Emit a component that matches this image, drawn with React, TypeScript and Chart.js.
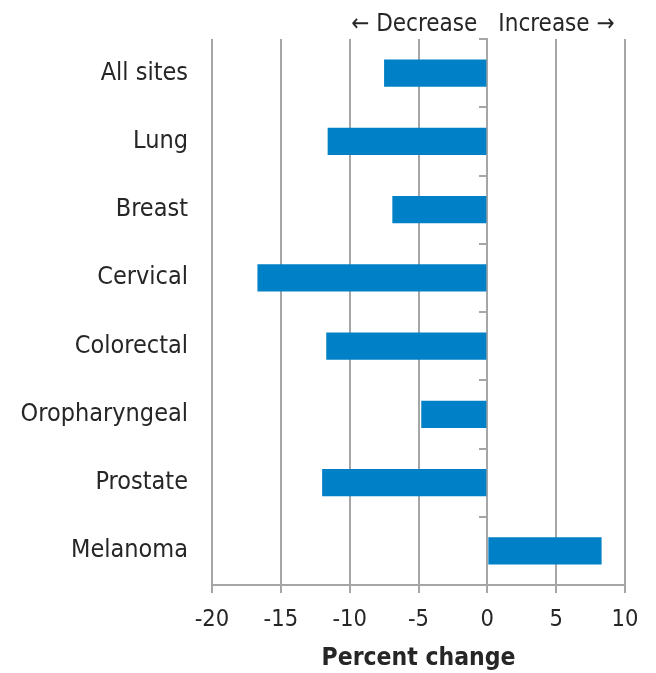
import React, { useEffect, useRef } from "react";
import { Chart, registerables } from "chart.js";

Chart.register(...registerables);

const categories = [
  "All sites",
  "Lung",
  "Breast",
  "Cervical",
  "Colorectal",
  "Oropharyngeal",
  "Prostate",
  "Melanoma",
];
const percentChange = [-7.5, -11.6, -6.9, -16.7, -11.7, -4.8, -12.0, 8.3];
const xMin = -20;
const xMax = 10;
const xStep = 5;
const xTitle = "Percent change";
const leftNote = "\u2190 Decrease";
const rightNote = "Increase \u2192";

const FONT = "'DejaVu Sans Condensed', 'DejaVu Sans', sans-serif";
const TEXT = "#262626";
const GRID = "#a6a6a6";
const BAR = "#0080c6";

const notesPlugin = {
  id: "notes",
  afterDraw(chart: any) {
    const ctx = chart.ctx;
    const x0 = chart.scales.x.getPixelForValue(0);
    ctx.save();
    ctx.font = `24px ${FONT}`;
    ctx.fillStyle = TEXT;
    ctx.textBaseline = "middle";
    ctx.textAlign = "right";
    ctx.fillText(leftNote, x0 - 10, 25);
    ctx.textAlign = "left";
    ctx.fillText(rightNote, x0 + 11, 25);
    ctx.restore();
  },
};

export default function App() {
  const ref = useRef<HTMLCanvasElement>(null);
  useEffect(() => {
    document.body.style.margin = "0";
    let chart: any = null;
    let cancelled = false;
    const build = () => {
      if (cancelled || !ref.current) return;
      chart = new Chart(ref.current, {
        type: "bar",
        data: {
          labels: categories,
          datasets: [
            {
              data: percentChange,
              backgroundColor: BAR,
              borderWidth: 0,
              barPercentage: 0.4,
              categoryPercentage: 1,
              yAxisID: "y",
            },
          ],
        },
        options: {
          indexAxis: "y",
          animation: false,
          responsive: false,
          maintainAspectRatio: false,
          layout: { padding: { top: 39, right: 31, left: 0, bottom: 0 } },
          plugins: { legend: { display: false }, tooltip: { enabled: false } },
          scales: {
            x: {
              type: "linear",
              min: xMin,
              max: xMax,
              position: "bottom",
              ticks: {
                stepSize: xStep,
                color: TEXT,
                font: { family: FONT, size: 23.5 },
                padding: 13,
              },
              grid: {
                color: GRID,
                lineWidth: 2,
                tickLength: 8,
                drawTicks: true,
              },
              border: { display: true, color: GRID, width: 2 },
              title: {
                display: true,
                text: xTitle,
                color: TEXT,
                font: { family: FONT, size: 24.5, weight: "bold" },
                padding: { top: 0, bottom: 0 },
              },
              afterFit(scale: any) {
                scale.height = 88;
              },
            },
            y: {
              type: "category",
              position: "left",
              grid: { display: false, drawTicks: false },
              border: { display: false },
              ticks: {
                color: TEXT,
                font: { family: FONT, size: 25 },
                padding: 24,
              },
              afterFit(scale: any) {
                scale.width = 212;
              },
            },
            y2: {
              type: "category",
              labels: categories,
              position: { x: 0 } as any,
              offset: true,
              ticks: { display: false },
              grid: {
                offset: true,
                drawOnChartArea: false,
                tickLength: 7,
                color: GRID,
                lineWidth: 2,
              },
              border: { display: true, color: GRID, width: 2 },
            },
          },
        } as any,
        plugins: [notesPlugin],
      });
    };
    const fonts: any = (document as any).fonts;
    if (fonts && fonts.load) {
      Promise.all([
        fonts.load(`23px 'DejaVu Sans Condensed'`),
        fonts.load(`bold 23px 'DejaVu Sans Condensed'`),
      ]).then(build, build);
    } else {
      build();
    }
    return () => {
      cancelled = true;
      if (chart) chart.destroy();
    };
  }, []);
  return (
    <div style={{ width: 656, height: 673 }}>
      <canvas ref={ref} width={656} height={673} style={{ display: "block" }} />
    </div>
  );
}
